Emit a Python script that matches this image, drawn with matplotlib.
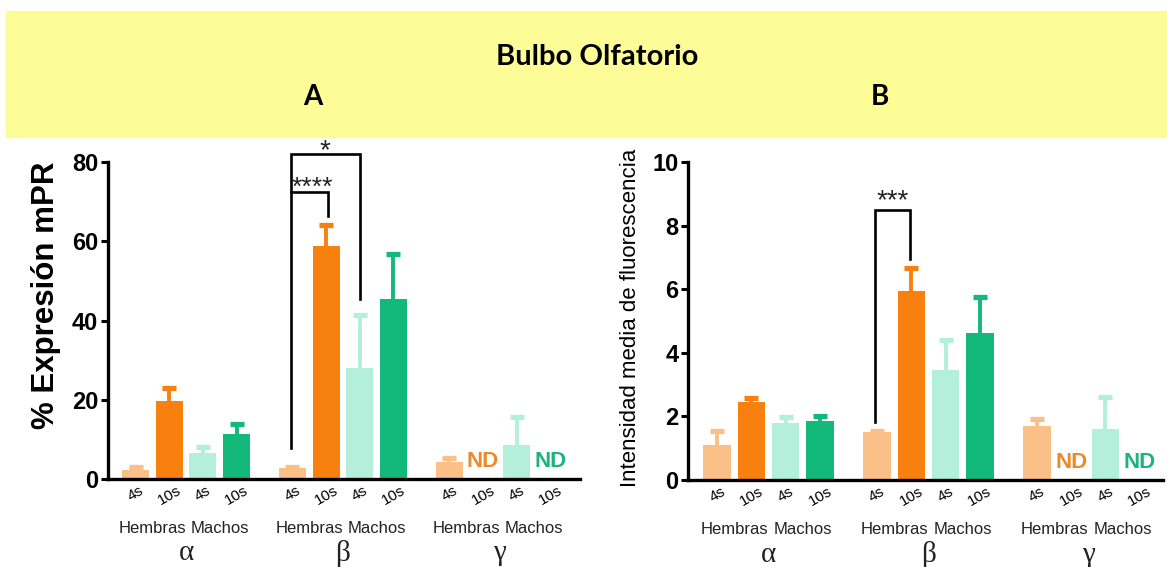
import matplotlib
matplotlib.use("Agg")
import matplotlib.pyplot as plt
import numpy as np

plt.rcParams['font.family'] = ['Liberation Sans', 'DejaVu Sans']

# ---- data -------------------------------------------------------------
receptors = ["α", "β", "γ"]
sexes = ["Hembras", "Machos"]
times = ["4s", "10s"]

# % Expresión mPR (panel A); None = not detected
expr_mean = [[2.3, 19.7, 6.5, 11.3],
             [2.7, 58.8, 27.9, 45.5],
             [4.2, None, 8.5, None]]
expr_err = [[0.8, 3.2, 1.5, 2.6],
            [0.3, 5.4, 13.6, 11.4],
            [1.0, None, 7.1, None]]

# Intensidad media de fluorescencia (panel B)
fluo_mean = [[1.10, 2.44, 1.78, 1.87],
             [1.52, 5.94, 3.46, 4.62],
             [1.71, None, 1.59, None]]
fluo_err = [[0.45, 0.14, 0.21, 0.15],
            [0.03, 0.74, 0.95, 1.13],
            [0.21, None, 1.01, None]]

bar_colors = ["#FBBF88", "#F7800F", "#B3EFDA", "#12B97A"]
nd_colors = ["#EC8A2A", "#1DB37C"]

GROUP_STEP = 4.66


def slot(g, i):
    return g * GROUP_STEP + i


def draw_panel(ax, means, errs, ymax, ystep, ylabel, label_kw, label_y,
               xlim, nd_y):
    for g in range(3):
        for i in range(4):
            m = means[g][i]
            x = slot(g, i)
            if m is None:
                ax.text(x, nd_y, "ND", color=nd_colors[i // 2], fontsize=16,
                        fontweight="bold", ha="center", va="center")
                continue
            ax.bar(x, m, width=0.8, color=bar_colors[i], zorder=2)
            _, caps, _ = ax.errorbar(x, m, yerr=[[0], [errs[g][i]]],
                                     fmt="none", ecolor=bar_colors[i],
                                     elinewidth=2.8, capsize=5,
                                     capthick=3.8, zorder=1)
            # only the upper whisker is shown
            caps[0].set_visible(False)
    ax.set_xlim(*xlim)
    ax.set_ylim(0, ymax)
    ax.set_yticks(np.arange(0, ymax + 0.01, ystep))
    ax.tick_params(axis="y", labelsize=17, width=2.2, length=5, pad=2)
    for t in ax.get_yticklabels():
        t.set_fontweight("bold")
    ax.set_xticks([slot(g, i) for g in range(3) for i in range(4)])
    ax.set_xticklabels(times * 6, rotation=30, fontsize=11, ha="center")
    ax.tick_params(axis="x", length=0, pad=3)
    for s in ("top", "right"):
        ax.spines[s].set_visible(False)
    for s in ("left", "bottom"):
        ax.spines[s].set_linewidth(2.4)
    ax.set_ylabel(ylabel, **label_kw)
    ax.yaxis.set_label_coords(label_y[0], label_y[1])
    trans = ax.get_xaxis_transform()
    for g in range(3):
        for k, sx in enumerate(sexes):
            ax.text(slot(g, 2 * k) + 0.5, -0.155, sx, transform=trans,
                    ha="center", va="center", fontsize=12, color="#222222")
        ax.text(slot(g, 1.5), -0.235, receptors[g], transform=trans,
                ha="center", va="center", fontsize=21, color="#222222",
                family=["Liberation Serif", "DejaVu Serif"])


def bracket(ax, x1, x2, y_top, y1, y2, label, label_y, fs=20, dx=0.0):
    ax.plot([x1, x1, x2, x2], [y1, y_top, y_top, y2], color="black",
            lw=1.9, clip_on=False, zorder=3, solid_joinstyle="miter")
    ax.text((x1 + x2) / 2 + dx, label_y, label, ha="center", va="center",
            fontsize=fs, color="#222222", clip_on=False, zorder=4)


fig = plt.figure(figsize=(11.67, 5.67), dpi=100)

# banner
fig.patches.append(plt.Rectangle((6 / 1167, 1 - 137 / 567), 1 - 6 / 1167,
                                 126 / 567, transform=fig.transFigure,
                                 color="#FDFD98", zorder=-5))
fig.text(597 / 1167, 1 - 57 / 567, "Bulbo Olfatorio", ha="center",
         va="center", fontsize=21, fontweight="bold", family="Lato")
fig.text(313 / 1167, 1 - 97 / 567, "A", ha="center", va="center",
         fontsize=20, fontweight="bold", family="Lato")
fig.text(880 / 1167, 1 - 97 / 567, "B", ha="center", va="center",
         fontsize=20, fontweight="bold", family="Lato")

axA = fig.add_axes([108 / 1167, 1 - 479 / 567, 472 / 1167, 317 / 567])
draw_panel(axA, expr_mean, expr_err, 80, 20, "% Expresión mPR",
           dict(fontsize=22.5, fontweight="bold"), (-0.10, 0.58),
           (-0.82, 13.2), 4.4)
bracket(axA, slot(1, 0) - 0.05, slot(1, 2), 82.0, 7.7, 45.3, "*", 82.6)
bracket(axA, slot(1, 0) - 0.05, slot(1, 1) + 0.05, 72.5, 72.5, 66.3,
        "****", 73.6, fs=19, dx=0.1)

axB = fig.add_axes([688 / 1167, 1 - 480 / 567, 475 / 1167, 318 / 567])
draw_panel(axB, fluo_mean, fluo_err, 10, 2,
           "Intensidad media de fluorescencia",
           dict(fontsize=16), (-0.10, 0.51), (-0.85, 13.0), 0.55)
bracket(axB, slot(1, 0) - 0.05, slot(1, 1) - 0.05, 8.49, 1.81, 6.95,
        "***", 8.78)

fig.savefig("out.png", dpi=100)
